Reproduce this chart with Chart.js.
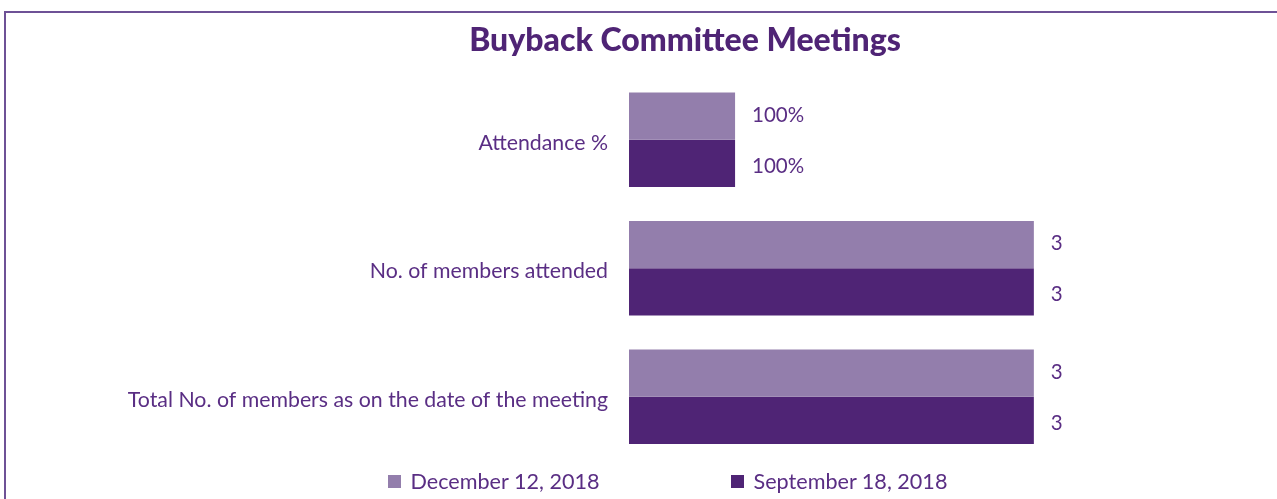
<!DOCTYPE html>
<html>
<head>
<meta charset="utf-8">
<script src="https://cdn.jsdelivr.net/npm/chart.js@4/dist/chart.umd.min.js"></script>
<style>
  html, body { margin: 0; padding: 0; background: #fff; overflow: hidden; }
  #frame { position: absolute; left: 4px; top: 11px; width: 1320px; height: 540px; border: 2px solid #6E5196; box-sizing: border-box; }
  #wrap { position: absolute; left: 0; top: 0; width: 1370px; height: 499px; }
  #legend { position: absolute; left: 0; top: 468px; width: 1335px; display: flex; justify-content: center; gap: 131px; font-family: Lato, sans-serif; font-size: 21.6px; color: #5A2E84; }
  #legend .item { display: flex; align-items: center; }
  #legend .box { width: 13px; height: 13px; margin-right: 10px; }
</style>
</head>
<body>
<div id="frame"></div>
<div id="wrap"><canvas id="c" width="1370" height="499"></canvas></div>
<div id="legend"></div>
<script>
const categories = ["Attendance %", "No. of members attended", "Total No. of members as on the date of the meeting"];
const seriesNames = ["December 12, 2018", "September 18, 2018"];
const decValues = [1, 3, 3];
const sepValues = [1, 3, 3];
const decLabels = ["100%", "3", "3"];
const sepLabels = ["100%", "3", "3"];
const colors = ["#937EAC", "#4F2475"];
const textColor = "#5A2E84";

const valueLabels = {
  id: "valueLabels",
  afterDatasetsDraw(chart) {
    const ctx = chart.ctx;
    ctx.save();
    ctx.font = "20.5px Lato, sans-serif";
    ctx.fillStyle = textColor;
    ctx.textAlign = "left";
    ctx.textBaseline = "middle";
    chart.data.datasets.forEach((ds, di) => {
      const meta = chart.getDatasetMeta(di);
      const dy = di === 0 ? -1 : 3;
      meta.data.forEach((bar, i) => {
        ctx.fillText(ds.valueText[i], bar.x + 17, bar.y + dy);
      });
    });
    ctx.restore();
  }
};

const chart = new Chart(document.getElementById("c"), {
  type: "bar",
  data: {
    labels: categories,
    datasets: [
      { label: seriesNames[0], data: decValues, valueText: decLabels, backgroundColor: colors[0], barPercentage: 1, categoryPercentage: 0.735 },
      { label: seriesNames[1], data: sepValues, valueText: sepLabels, backgroundColor: colors[1], barPercentage: 1, categoryPercentage: 0.735 }
    ]
  },
  options: {
    indexAxis: "y",
    responsive: false,
    animation: false,
    layout: { padding: { top: 0, bottom: 38, left: 0, right: 0 } },
    plugins: {
      legend: { display: false },
      tooltip: { enabled: false },
      title: {
        display: true,
        text: "Buyback Committee Meetings",
        color: "#4F2475",
        font: { family: "Lato, sans-serif", size: 32, weight: "900" },
        padding: { top: 21, bottom: 16 }
      }
    },
    scales: {
      x: { display: false, min: 0.29, max: 5.25 },
      y: {
        grid: { display: false },
        border: { display: false },
        ticks: { color: textColor, font: { family: "Lato, sans-serif", size: 21.3 }, padding: 13, labelOffset: 3 },
        afterFit(scale) { scale.width = 629; }
      }
    }
  },
  plugins: [valueLabels]
});

const legendEl = document.getElementById("legend");
chart.data.datasets.forEach(ds => {
  const item = document.createElement("div");
  item.className = "item";
  const box = document.createElement("span");
  box.className = "box";
  box.style.background = ds.backgroundColor;
  const txt = document.createElement("span");
  txt.textContent = ds.label;
  item.appendChild(box); item.appendChild(txt);
  legendEl.appendChild(item);
});
</script>
</body>
</html>
